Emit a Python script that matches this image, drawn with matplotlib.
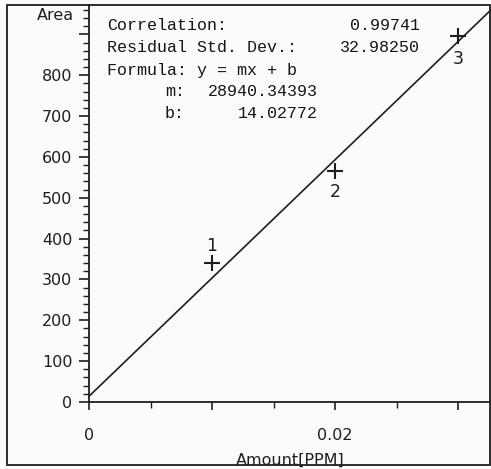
import matplotlib
matplotlib.use("Agg")
import matplotlib.pyplot as plt
import numpy as np
from matplotlib.patches import Rectangle
from matplotlib.ticker import MultipleLocator

# calibration points
amount = [0.01, 0.02, 0.03]
area = [341, 566, 895]
point_ids = ["1", "2", "3"]
label_offset = [12, -15, -16]   # points, + above / - below the cross

# fit report printed on the chart
m_slope, b_icpt = 28940.34393, 14.02772
report_left = ["Correlation:", "Residual Std. Dev.:", "Formula: y = mx + b"]
report_right = ["0.99741", "32.98250", ""]
coef_names = ["m:", "b:"]
coef_values = ["28940.34393", "14.02772"]

y_ticks = [0, 100, 200, 300, 400, 500, 600, 700, 800, 900]
y_labels = ["0", "100", "200", "300", "400", "500", "600", "700", "800", ""]
x_ticks = [0, 0.01, 0.02, 0.03]
x_labels = ["0", "", "0.02", ""]

W, H = 491, 469
INK = "#1e1e1e"
SANS = "DejaVu Sans"
MONO = "Liberation Mono"


def px(x, y):
    """pixel (from top-left) -> figure fraction"""
    return x / W, 1 - y / H


fig = plt.figure(figsize=(W / 100, H / 100), dpi=100, facecolor="#fbfbfb")
x0, y0, x1, y1 = 89, 402, 491, 5
ax = fig.add_axes([x0 / W, 1 - y0 / H, (x1 - x0) / W, (y0 - y1) / H])
ax.set_facecolor("none")

px_per_x = 12300.0
px_per_y = 0.4085
ax.set_xlim(0, (x1 - x0) / px_per_x)
ax.set_ylim(0, (y0 - y1) / px_per_y)

for s in ("top", "right"):
    ax.spines[s].set_visible(False)
for s in ("left", "bottom"):
    ax.spines[s].set_color(INK)
    ax.spines[s].set_linewidth(1.3)

ax.set_yticks(y_ticks)
ax.set_yticklabels(y_labels, fontfamily=SANS, fontsize=11.5, color=INK)
ax.yaxis.set_minor_locator(MultipleLocator(20))
ax.set_xticks(x_ticks)
ax.set_xticklabels(x_labels, fontfamily=SANS, fontsize=11.5, color=INK)
ax.xaxis.set_minor_locator(MultipleLocator(0.005))
ax.tick_params(axis="y", which="major", length=7, width=1.2, color=INK, pad=5)
ax.tick_params(axis="y", which="minor", length=4, width=1.0, color=INK)
ax.tick_params(axis="x", which="major", length=6, width=1.2, color=INK, pad=13)
ax.tick_params(axis="x", which="minor", length=4, width=1.0, color=INK)

# regression line from the reported coefficients
xs = np.array(ax.get_xlim())
ax.plot(xs, m_slope * xs + b_icpt, color=INK, lw=1.2, clip_on=True)

ax.plot(amount, area, "+", color=INK, ms=11, mew=1.5)
for xv, yv, lab, dy in zip(amount, area, point_ids, label_offset):
    ax.annotate(lab, (xv, yv), xytext=(0, dy), textcoords="offset points",
                ha="center", va="center", fontfamily=SANS, fontsize=12.5, color=INK)

ax.set_xlabel("Amount[PPM]", fontfamily=SANS, fontsize=11.5, color=INK)
ax.xaxis.set_label_coords(0.5, -(460 - y0) / (y0 - y1), transform=ax.transAxes)
ax.xaxis.label.set_va("center")
fig.text(*px(74, 15), "Area", ha="right", va="center", fontfamily=SANS, fontsize=11.5, color=INK)

# report block (instrument printout, monospace)
rows_y = [25, 48, 70]
txt = dict(va="center", fontfamily=MONO, fontsize=12, color="#151515")
for y, left, right in zip(rows_y, report_left, report_right):
    fig.text(*px(107, y), left, ha="left", **txt)
    if right:
        fig.text(*px(420, y), right, ha="right", **txt)
for y, name, val in zip([91, 113], coef_names, coef_values):
    fig.text(*px(165, y), name, ha="left", **txt)
    fig.text(*px(318, y), val, ha="right", **txt)

# outer frame of the printout
fig.patches.append(Rectangle(px(7, 465), (490 - 7) / W, (465 - 5) / H, transform=fig.transFigure,
                             fill=False, edgecolor=INK, lw=1.3))

fig.savefig("out.png", dpi=100, facecolor=fig.get_facecolor())
